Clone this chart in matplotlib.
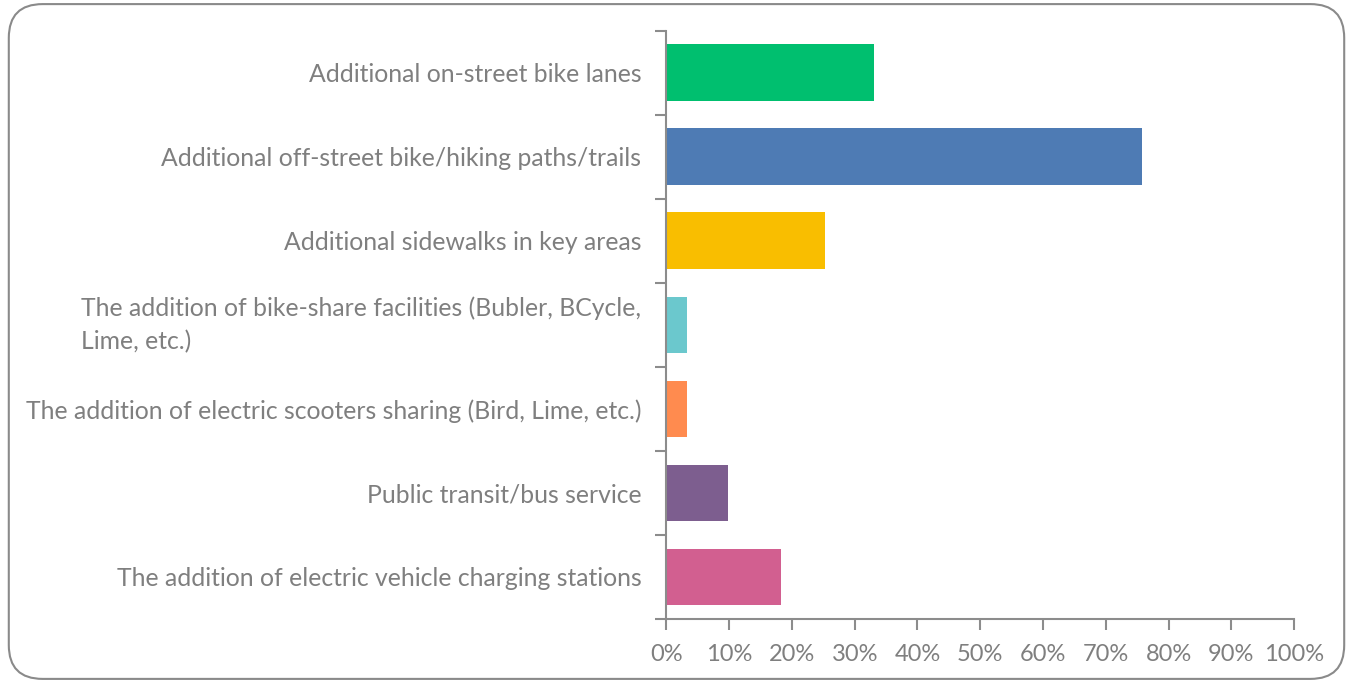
import numpy as np
import matplotlib.pyplot as plt
from matplotlib.patches import FancyBboxPatch
from matplotlib.ticker import FixedLocator, PercentFormatter

# Survey responses: share of respondents choosing each improvement
categories = [
    "Additional on-street bike lanes",
    "Additional off-street bike/hiking paths/trails",
    "Additional sidewalks in key areas",
    "The addition of bike-share facilities (Bubler, BCycle,\nLime, etc.)",
    "The addition of electric scooters sharing (Bird, Lime, etc.)",
    "Public transit/bus service",
    "The addition of electric vehicle charging stations",
]
shares = [33.1, 75.8, 25.3, 3.3, 3.3, 9.8, 18.2]
colors = ["#00BF6F", "#4E7BB4", "#F9BE00", "#6BC8CD", "#FF8B4F", "#7D5E8F", "#D25F90"]
x_ticks = list(range(0, 101, 10))

gray = "#7F7F7F"
axis_gray = "#8C8C8C"
plt.rcParams['font.family'] = ['Lato', 'DejaVu Sans']

fig = plt.figure(figsize=(13.53, 6.83), dpi=100)
ax = fig.add_axes([0.4926, 0.0937, 0.4638, 0.8613])

y = np.arange(len(categories))
ax.barh(y, shares, height=0.675, color=colors)

ax.set_xlim(0, 100)
ax.set_ylim(len(categories) - 0.5, -0.5)

ax.xaxis.set_major_locator(FixedLocator(x_ticks))
ax.xaxis.set_major_formatter(PercentFormatter(decimals=0))

# labels on category centres, tick marks on the boundaries between them
ax.set_yticks(y)
ax.set_yticklabels(categories)
ax.set_yticks(np.arange(len(categories) + 1) - 0.5, minor=True)
ax.tick_params(axis='y', which='major', length=0, pad=18, labelsize=17.8, labelcolor=gray)
ax.tick_params(axis='y', which='minor', length=8, width=1.5, color=axis_gray, direction='out')
ax.tick_params(axis='x', which='major', length=8, width=1.5, color=axis_gray, direction='out',
               pad=10, labelsize=17, labelcolor=gray)
for lbl in ax.get_yticklabels():
    lbl.set_multialignment('left')
    lbl.set_linespacing(1.5)
    if "\n" in lbl.get_text():
        lbl.set_verticalalignment('center')

for side in ('top', 'right'):
    ax.spines[side].set_visible(False)
for side in ('left', 'bottom'):
    ax.spines[side].set_color(axis_gray)
    ax.spines[side].set_linewidth(1.5)

# rounded frame around the whole chart
frame = FancyBboxPatch((0.0065, 0.006), 0.987, 0.988, boxstyle="round,pad=0,rounding_size=0.025",
                       transform=fig.transFigure, fill=False, edgecolor="#8A8A8A", linewidth=1.5,
                       mutation_aspect=1353 / 683)
fig.patches.append(frame)

fig.savefig("out.png", dpi=100)
